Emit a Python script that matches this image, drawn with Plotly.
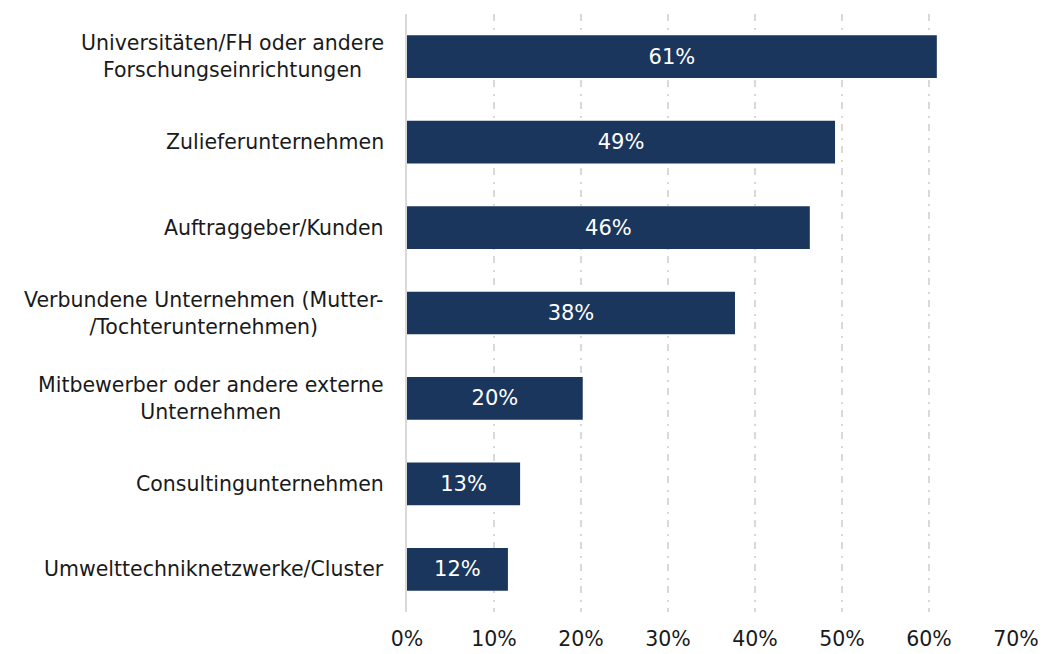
import plotly.graph_objects as go

categories = [
    "Universitäten/FH oder andere<br>Forschungseinrichtungen",
    "Zulieferunternehmen",
    "Auftraggeber/Kunden",
    "Verbundene Unternehmen (Mutter-<br>/Tochterunternehmen)",
    "Mitbewerber oder andere externe<br>Unternehmen",
    "Consultingunternehmen",
    "Umwelttechniknetzwerke/Cluster",
]
shares = [60.9, 49.2, 46.3, 37.7, 20.2, 13.0, 11.6]
tick_values = [0, 10, 20, 30, 40, 50, 60, 70]
tick_labels = [f"{v}%" for v in tick_values]

NAVY = "#1b365d"
TEXT = "#1a1a1a"
FONT = "DejaVu Sans"

fig = go.Figure(
    go.Bar(
        x=shares,
        y=categories,
        orientation="h",
        marker=dict(color=NAVY, line=dict(width=0)),
        texttemplate="%{x:.0f}%",
        textposition="inside",
        insidetextanchor="middle",
        textfont=dict(color="white", size=21, family=FONT),
    )
)

# category labels: multi-line entries centred on themselves, right edge next to the axis
for cat in categories:
    fig.add_annotation(
        x=0,
        y=cat,
        xref="x",
        yref="y",
        text=cat,
        showarrow=False,
        xanchor="right",
        yanchor="middle",
        align="center",
        xshift=-21,
        font=dict(size=20.5, family=FONT, color=TEXT),
    )

fig.update_layout(
    width=1045,
    height=654,
    margin=dict(l=407, r=29, t=14, b=42),
    paper_bgcolor="white",
    plot_bgcolor="white",
    bargap=0.5,
    showlegend=False,
    font=dict(family=FONT, color=TEXT),
    uniformtext=dict(mode=False),
)

fig.update_xaxes(
    range=[0, 70],
    tickvals=tick_values,
    ticktext=tick_labels,
    tickfont=dict(size=20.5, family=FONT, color=TEXT),
    showgrid=True,
    gridcolor="#d9d9d9",
    gridwidth=1.5,
    griddash="7px,7px,2px,6px",
    zeroline=False,
    showline=False,
    ticks="outside",
    ticklen=8,
    tickcolor="rgba(0,0,0,0)",
    automargin=False,
)

fig.update_yaxes(
    autorange="reversed",
    showticklabels=False,
    showgrid=False,
    showline=True,
    linecolor="#d9d9d9",
    linewidth=2,
    ticks="",
    automargin=False,
)

fig.write_html("out.html")
